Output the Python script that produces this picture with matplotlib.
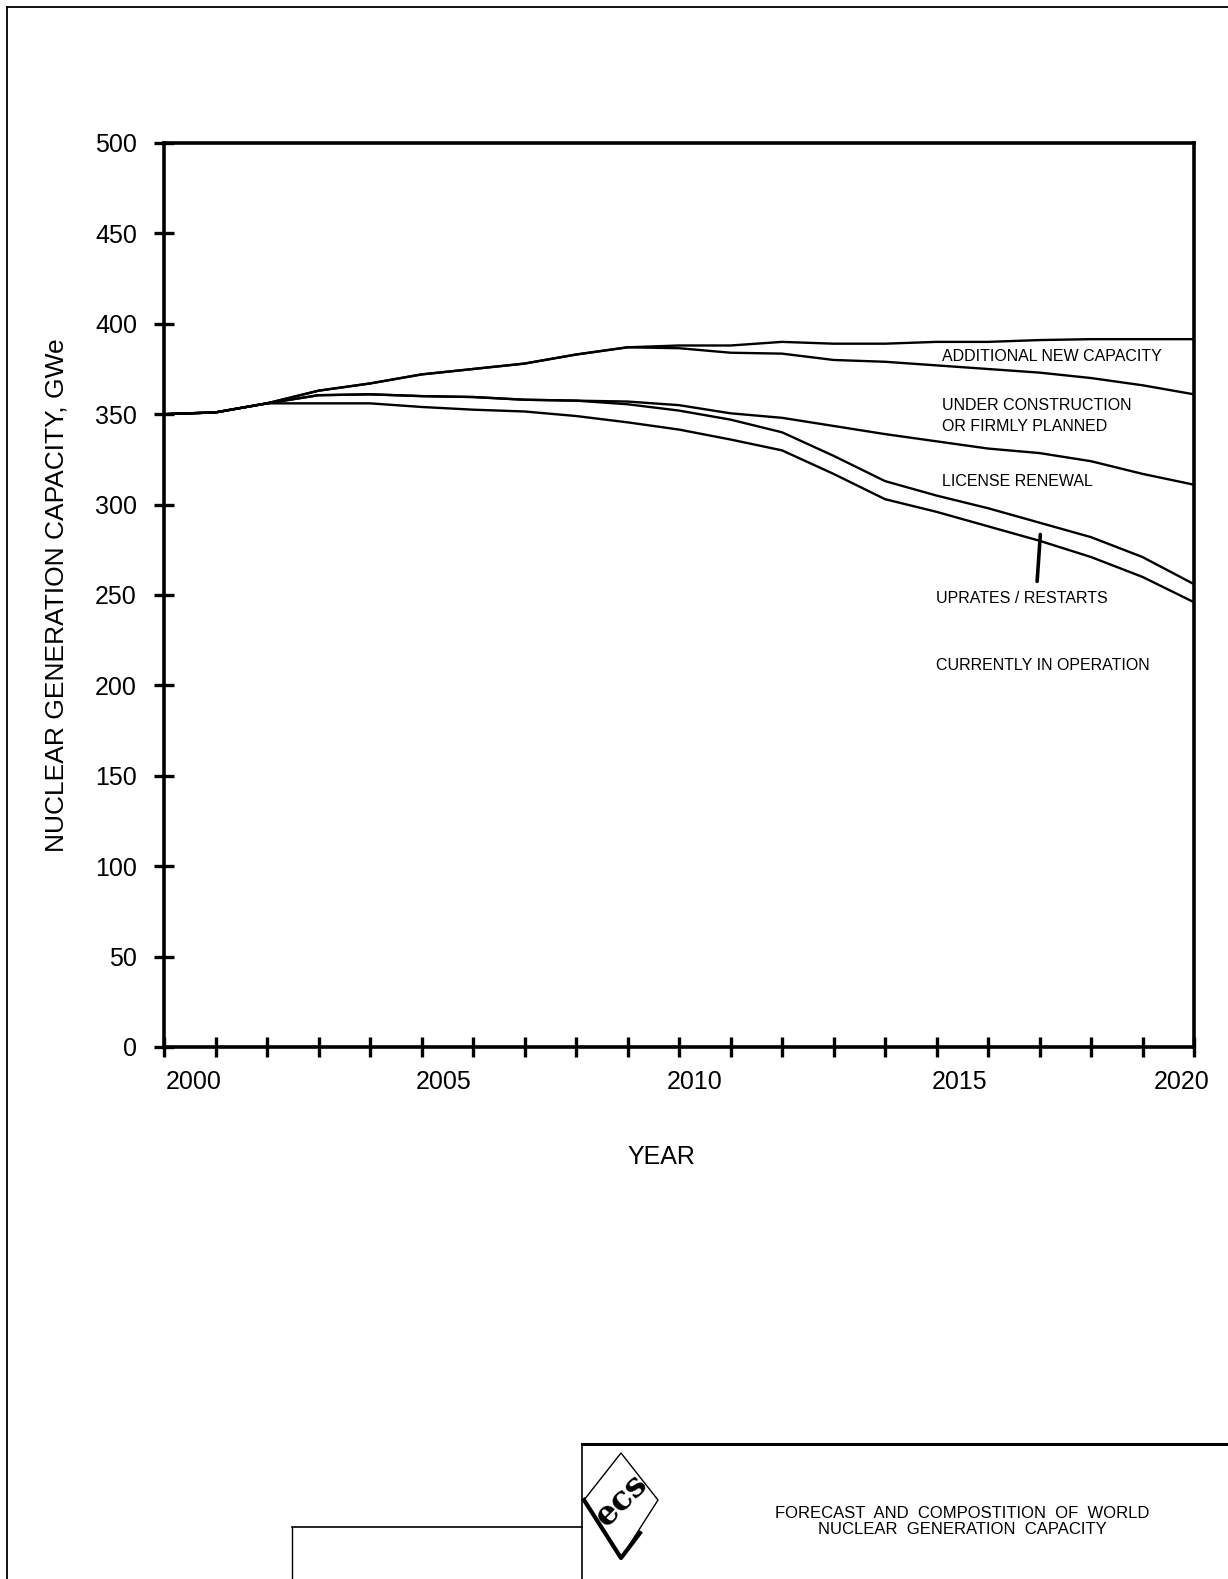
import matplotlib
matplotlib.use("Agg")
import matplotlib.pyplot as plt
from matplotlib.lines import Line2D
from matplotlib.patches import Polygon
from matplotlib.ticker import MultipleLocator
import matplotlib.transforms as mtransforms

plt.rcParams['font.family'] = ['Liberation Sans', 'DejaVu Sans']

# boundaries of the stacked capacity layers, GWe
years = list(range(2000, 2021))
in_operation = [350, 351, 356, 356, 356, 354, 352.5, 351.5, 349, 345.5, 341.5,
                336, 330, 317, 303, 296, 288, 280, 271, 260, 246]
with_uprates = [350, 351, 356, 360.5, 361, 360, 359.5, 358, 357.5, 355.5, 352,
                347, 340, 327, 313, 305, 298, 290, 282, 271, 256]
with_renewal = [350, 351, 356, 360.5, 361, 360, 359.5, 358, 357.5, 357, 355,
                350.5, 348, 343.5, 339, 335, 331, 328.5, 324, 317, 311]
with_construction = [350, 351, 356, 363, 367, 372, 375, 378, 383, 387, 386.5,
                     384, 383.5, 380, 379, 377, 375, 373, 370, 366, 361]
total = [350, 351, 356, 363, 367, 372, 375, 378, 383, 387, 388, 388, 390,
         389, 389, 390, 390, 391, 391.5, 391.5, 391.5]

layer_labels = ['ADDITIONAL NEW CAPACITY', 'UNDER CONSTRUCTION\nOR FIRMLY PLANNED',
                'LICENSE RENEWAL', 'UPRATES / RESTARTS', 'CURRENTLY IN OPERATION']
label_pos = [(2015.1, 382), (2015.1, 349), (2015.1, 313), (2015.0, 248), (2015.0, 211)]

year_labels = ['2000', '2005', '2010', '2015', '2020']
label_shift = [30, 22, 16, 23, -12]   # px, the labels sit off their ticks

W, H = 1228, 1579
fig = plt.figure(figsize=(W / 100, H / 100), dpi=100)
ax = fig.add_axes([164 / W, 1 - 1047 / H, (1194 - 164) / W, (1047 - 143) / H])

for line in [in_operation, with_uprates, with_renewal, with_construction, total]:
    ax.plot(years, line, color='black', lw=1.7, solid_joinstyle='miter')

for txt, (x, y) in zip(layer_labels, label_pos):
    ax.text(x, y, txt, ha='left', va='center', fontsize=11.5,
            linespacing=1.45)

# pointer for the thin uprates band
ax.annotate('', xy=(2016.95, 256), xytext=(2017.02, 285),
            arrowprops=dict(arrowstyle='-', lw=2.6, color='black'))

ax.set_xlim(2000, 2020)
ax.set_ylim(0, 500)
ax.xaxis.set_minor_locator(MultipleLocator(1))
ax.yaxis.set_major_locator(MultipleLocator(50))
ax.set_xticks([2000, 2005, 2010, 2015, 2020])
ax.set_xticklabels(year_labels)

ax.tick_params(axis='both', which='both', direction='inout', length=15,
               width=2.4, labelsize=18)
ax.tick_params(axis='x', pad=9)
ax.tick_params(axis='y', pad=12)
for sp in ax.spines.values():
    sp.set_linewidth(2.6)

for lab, dx in zip(ax.get_xticklabels(), label_shift):
    lab.set_transform(lab.get_transform() +
                      mtransforms.ScaledTranslation(dx / 100, 0, fig.dpi_scale_trans))

ax.set_ylabel('NUCLEAR GENERATION CAPACITY, GWe', fontsize=19)
ax.yaxis.set_label_coords(-0.093, 0.5)
ax.set_xlabel('YEAR', fontsize=18)
ax.xaxis.set_label_coords(0.483, -0.108)

# page border
fig.add_artist(Line2D([7 / W, 7 / W], [0, 1 - 7 / H], color='black', lw=1.3))
fig.add_artist(Line2D([7 / W, 1], [1 - 7 / H, 1 - 7 / H], color='black', lw=1.3))

# title block
fig.add_artist(Line2D([582 / W, 1], [1 - 1444 / H] * 2, color='black', lw=2.2))
fig.add_artist(Line2D([582 / W] * 2, [0, 1 - 1444 / H], color='black', lw=1.2))
fig.add_artist(Line2D([292 / W, 582 / W], [1 - 1527 / H] * 2, color='black', lw=1.2))
fig.add_artist(Line2D([292 / W] * 2, [0, 1 - 1527 / H], color='black', lw=1.0))

# logo: diamond with letters
dia = [(621, 1453), (658, 1500), (621, 1558), (584, 1500)]
fig.add_artist(Polygon([(x / W, 1 - y / H) for x, y in dia], closed=True,
                       fill=False, ec='black', lw=1.0, transform=fig.transFigure))
fig.add_artist(Line2D([584 / W, 621 / W, 640 / W], [1 - 1500 / H, 1 - 1558 / H, 1 - 1533 / H],
                      color='black', lw=3.0))
fig.text(621 / W, 1 - 1500 / H, 'ecs', fontsize=24, fontweight='bold',
         family='DejaVu Serif', rotation=45, ha='center', va='center')

fig.text(962 / W, 1 - 1513 / H, 'FORECAST  AND  COMPOSTITION  OF  WORLD',
         fontsize=12, ha='center', va='center')
fig.text(962 / W, 1 - 1530 / H, 'NUCLEAR  GENERATION  CAPACITY',
         fontsize=12, ha='center', va='center')

fig.savefig('out.png', dpi=100)
